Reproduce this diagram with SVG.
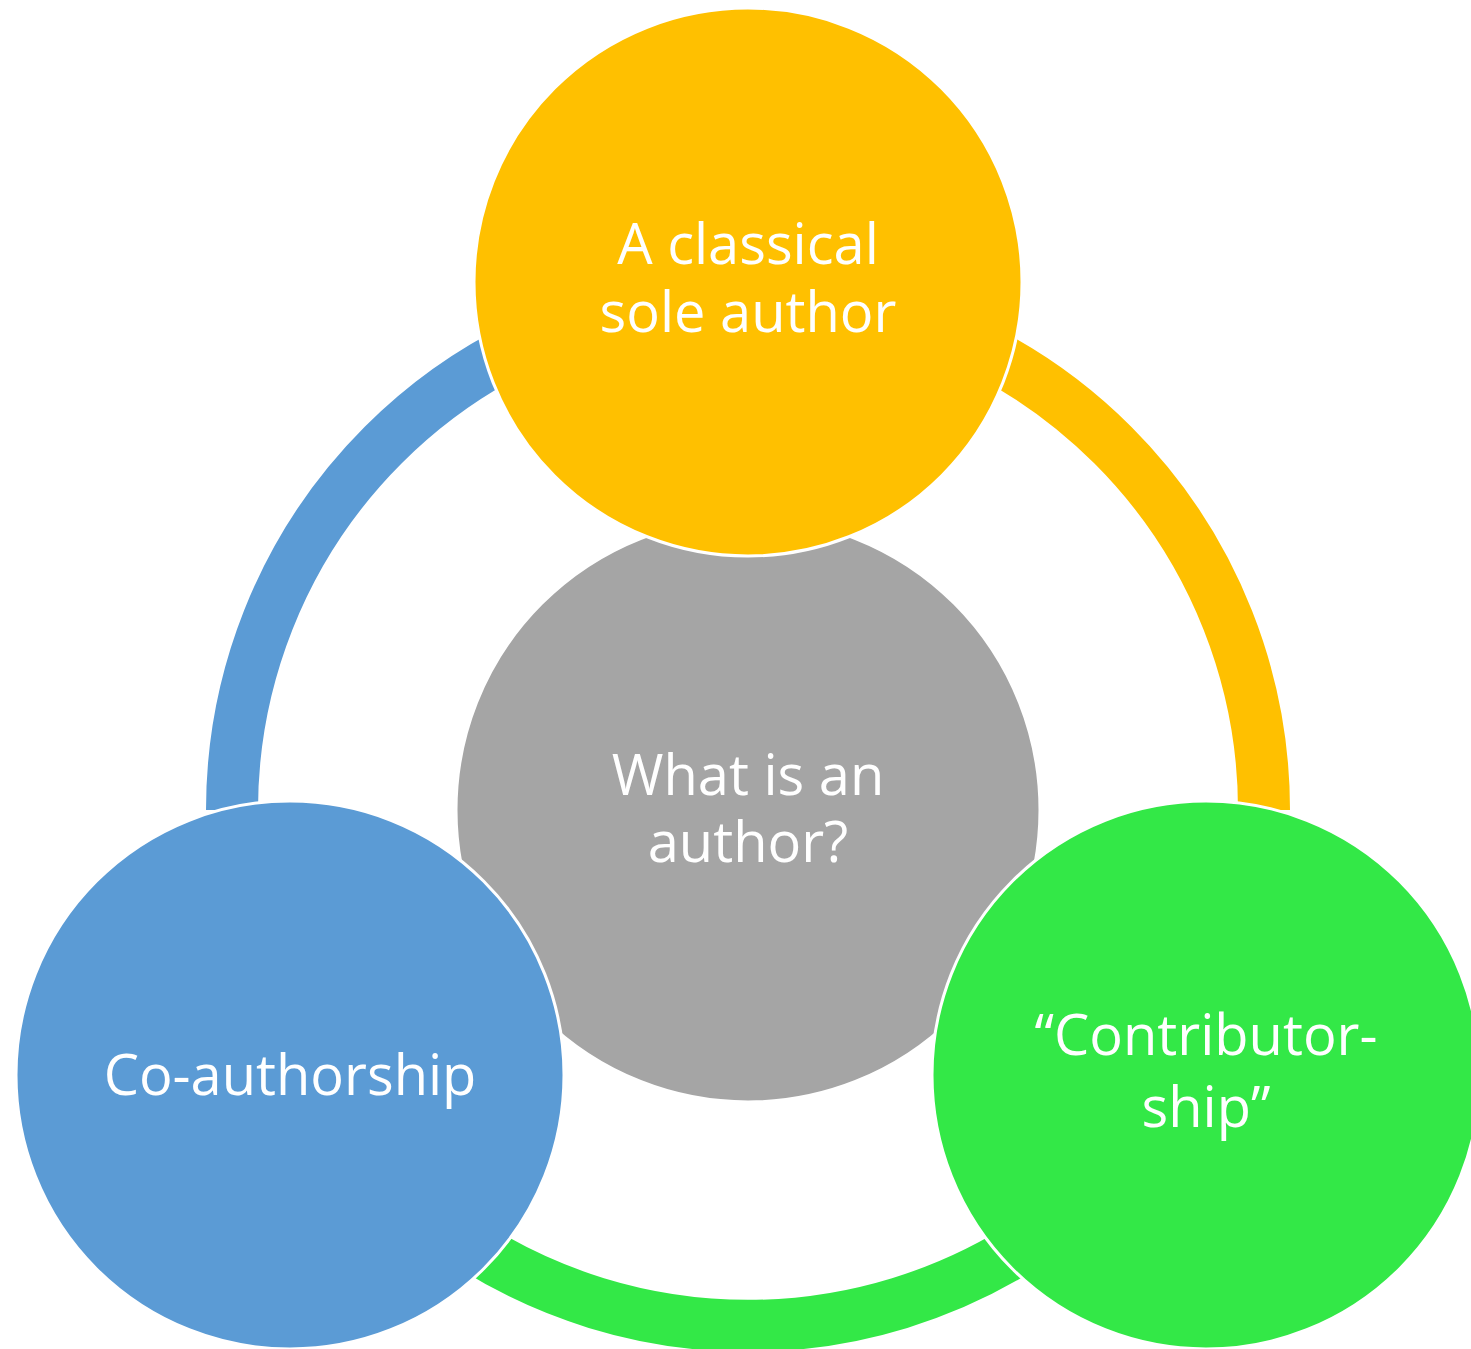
<svg xmlns="http://www.w3.org/2000/svg" width="1471" height="1349" viewBox="0 0 1471 1349">
<style>
.ring{fill:none;stroke-width:52;}
.node{stroke:#FFFFFF;stroke-width:3;}
.lbl{font-family:"Open Sans","Noto Sans",sans-serif;font-size:56px;fill:#FFFFFF;text-anchor:middle;}
</style>
<rect x="0" y="0" width="1471" height="1349" fill="#FFFFFF"/>
<g id="connectors">
<path class="ring" stroke="#5B9BD5" d="M 232 810 A 516 516 0 0 1 748 294"/>
<path class="ring" stroke="#FFC000" d="M 748 294 A 516 516 0 0 1 1264 810"/>
<path class="ring" stroke="#33E847" d="M 1233 986 A 516 516 0 0 1 263 986"/>
</g>
<g id="center">
<circle class="node" cx="748" cy="810" r="292" fill="#A5A5A5"/>
<text class="lbl" x="748" y="795">What is an</text>
<text class="lbl" x="748" y="862">author?</text>
</g>
<g id="top">
<circle class="node" cx="748" cy="282" r="274" fill="#FFC000"/>
<text class="lbl" x="748" y="264">A classical</text>
<text class="lbl" x="748" y="332">sole author</text>
</g>
<g id="left">
<circle class="node" cx="290" cy="1075" r="274" fill="#5B9BD5"/>
<text class="lbl" x="290" y="1095">Co-authorship</text>
</g>
<g id="right">
<circle class="node" cx="1206" cy="1075" r="274" fill="#33E847"/>
<text class="lbl" x="1206" y="1055">“Contributor-</text>
<text class="lbl" x="1206" y="1127">ship”</text>
</g>
</svg>
